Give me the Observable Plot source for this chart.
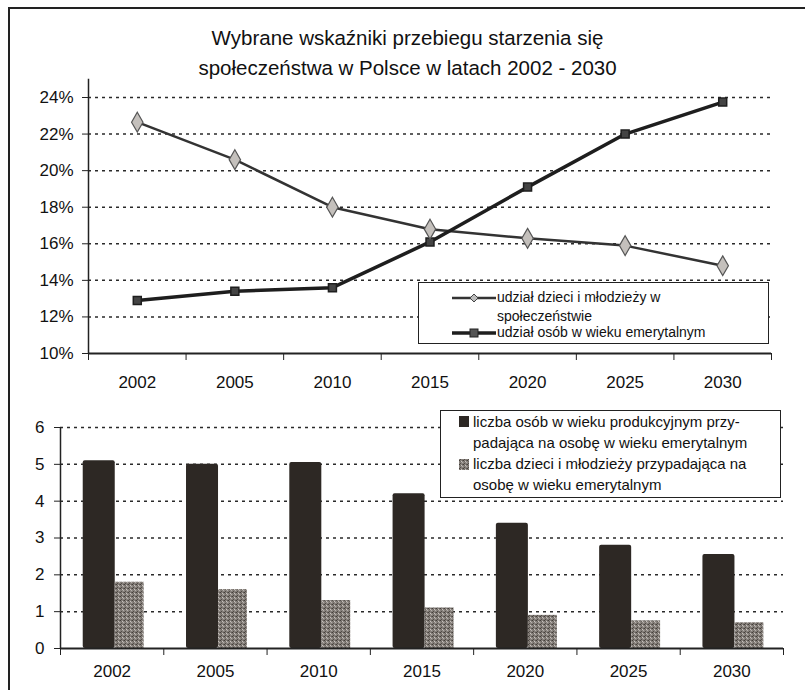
<!DOCTYPE html>
<html>
<head>
<meta charset="utf-8">
<script src="https://cdn.jsdelivr.net/npm/d3@7"></script>
<script src="https://cdn.jsdelivr.net/npm/@observablehq/plot@0.6"></script>
<style>
  body { margin: 0; background: #fff; font-family: "Liberation Sans", Arial, sans-serif; }
  #wrap { position: relative; width: 805px; height: 690px; overflow: hidden; background: #fff; }
  #frame { position: absolute; left: 8px; top: 7px; width: 900px; height: 800px; border-left: 2px solid #222; border-top: 2px solid #222; }
  #title { position: absolute; left: 0; width: 815px; top: 23px; text-align: center; font-size: 20.5px; line-height: 30px; color: #111; }
  #top { position: absolute; left: 0; top: 70px; }
  #bottom { position: absolute; left: 0; top: 400px; }
  .box { position: absolute; border: 1.5px solid #222; background: #fff; box-sizing: border-box; }
  .txt { position: absolute; color: #111; white-space: nowrap; }
  .sw { position: absolute; }
</style>
</head>
<body>
<svg width="0" height="0" style="position:absolute">
  <defs>
    <pattern id="speck" width="4" height="4" patternUnits="userSpaceOnUse">
      <rect width="4" height="4" fill="#86807b"/>
      <rect x="0" y="0" width="1" height="1" fill="#433e3a"/>
      <rect x="2" y="1" width="1" height="1" fill="#c8c3bf"/>
      <rect x="1" y="3" width="1" height="1" fill="#524d48"/>
      <rect x="3" y="2" width="1" height="1" fill="#b5b0ac"/>
      <rect x="3" y="0" width="1" height="1" fill="#65605b"/>
      <rect x="1" y="1" width="1" height="1" fill="#6a655f"/>
    </pattern>
  </defs>
</svg>
<div id="wrap">
  <div id="frame"></div>
  <div id="title">Wybrane wskaźniki przebiegu starzenia się<br>społeczeństwa w Polsce w latach 2002 - 2030</div>
  <div id="top"></div>
  <div id="bottom"></div>

  <div class="box" style="left:418px;top:282px;width:351px;height:62px"></div>
  <svg class="sw" style="left:452px;top:290px" width="46" height="50">
    <line x1="0" y1="8" x2="44" y2="8" stroke="#333" stroke-width="2.5"/>
    <path d="M22,4 L26,8 L22,12 L18,8 Z" fill="#bbb" stroke="#444" stroke-width="1"/>
    <line x1="0" y1="43" x2="44" y2="43" stroke="#1e1e1e" stroke-width="3.5"/>
    <rect x="18" y="39" width="8" height="8" fill="#555" stroke="#222"/>
  </svg>
  <div class="txt" style="left:497px;top:288px;font-size:14px;line-height:19px">udział dzieci i młodzieży w<br>społeczeństwie</div>
  <div class="txt" style="left:497px;top:324px;font-size:14px;line-height:16px">udział osób w wieku emerytalnym</div>

  <div class="box" style="left:440px;top:410px;width:341px;height:88px"></div>
  <svg class="sw" style="left:459px;top:416px" width="12" height="60">
    <rect x="0" y="0" width="10" height="11" fill="#2d2824"/>
    <rect x="0" y="43" width="10" height="11" fill="url(#speck)"/>
  </svg>
  <div class="txt" style="left:473px;top:411px;font-size:15px;line-height:21px">liczba osób w wieku produkcyjnym przy-<br>padająca na osobę w wieku emerytalnym<br>liczba dzieci i młodzieży przypadająca na<br>osobę w wieku emerytalnym</div>
</div>
<script>
const years = ["2002", "2005", "2010", "2015", "2020", "2025", "2030"];
const youthShare = [22.65, 20.6, 18.0, 16.8, 16.3, 15.9, 14.8];
const retiredShare = [12.9, 13.4, 13.6, 16.1, 19.1, 22.0, 23.75];
const pctTicks = [10, 12, 14, 16, 18, 20, 22, 24];
const workingPerRetired = [5.1, 5.0, 5.05, 4.2, 3.4, 2.8, 2.55];
const youthPerRetired = [1.8, 1.6, 1.3, 1.1, 0.9, 0.75, 0.7];
const countTicks = [0, 1, 2, 3, 4, 5, 6];

const idx = years.map((d, i) => i);
const bounds = d3.range(years.length + 1).map(i => i - 0.5);
const ink = "#222";
const grid = {stroke: "#2a2a2a", strokeWidth: 1.5, strokeDasharray: "3,4"};

const topChart = Plot.plot({
  width: 805, height: 335,
  marginTop: 27, marginBottom: 52, marginLeft: 88, marginRight: 34,
  style: {fontFamily: "Liberation Sans, Arial, sans-serif", fontSize: "17px", color: "#111", background: "transparent"},
  x: {type: "linear", domain: [-0.5, years.length - 0.5], axis: null},
  y: {domain: [10, 24], axis: null},
  marks: [
    Plot.ruleY(pctTicks.slice(1), {y: d => d, ...grid}),
    Plot.ruleY([10], {stroke: ink, strokeWidth: 2}),
    Plot.ruleX([-0.5], {y1: 10, y2: 25, stroke: ink, strokeWidth: 1.5}),
    Plot.axisY({ticks: pctTicks, tickSize: 6, tickPadding: 9, tickFormat: d => d + "%", stroke: ink, fontSize: 17}),
    Plot.axisX({ticks: bounds, tickSize: 7, tickFormat: () => "", stroke: ink}),
    Plot.axisX({ticks: idx, tickSize: 0, tickPadding: 22, tickFormat: i => years[i], fontSize: 17}),
    Plot.line(idx, {x: i => i, y: i => youthShare[i], stroke: "#333", strokeWidth: 2.5}),
    Plot.line(idx, {x: i => i, y: i => retiredShare[i], stroke: "#1e1e1e", strokeWidth: 3.5}),
    Plot.dot(idx, {x: i => i, y: i => retiredShare[i], symbol: "square", r: 4.5, fill: "#444", stroke: "#1e1e1e"}),
    Plot.dot(idx, {x: i => i, y: i => youthShare[i], symbol: "diamond", r: 6, fill: "#c4c0bc", stroke: "#555", strokeWidth: 1.2})
  ]
});
document.getElementById("top").appendChild(topChart);

const bottomChart = Plot.plot({
  width: 805, height: 290,
  marginTop: 27, marginBottom: 42, marginLeft: 60, marginRight: 22,
  style: {fontFamily: "Liberation Sans, Arial, sans-serif", fontSize: "17px", color: "#111", background: "transparent"},
  x: {type: "linear", domain: [-0.5, years.length - 0.5], axis: null},
  y: {domain: [0, 6], axis: null},
  marks: [
    Plot.ruleY(countTicks.slice(1), {y: d => d, ...grid}),
    Plot.rectY(idx, {x1: i => i - 0.28, x2: i => i + 0.03, y: i => workingPerRetired[i], fill: "#2d2824", rx: 2}),
    Plot.rectY(idx, {x1: i => i + 0.03, x2: i => i + 0.31, y: i => youthPerRetired[i], fill: "url(#speck)"}),
    Plot.ruleY([0], {stroke: ink, strokeWidth: 2}),
    Plot.ruleX([-0.5], {y1: 0, y2: 6, stroke: ink, strokeWidth: 1.5}),
    Plot.axisY({ticks: countTicks, tickSize: 6, tickPadding: 10, tickFormat: d => String(d), stroke: ink, fontSize: 17}),
    Plot.axisX({ticks: bounds, tickSize: 7, tickFormat: () => "", stroke: ink}),
    Plot.axisX({ticks: idx, tickSize: 0, tickPadding: 16, tickFormat: i => years[i], fontSize: 17})
  ]
});
document.getElementById("bottom").appendChild(bottomChart);
</script>
</body>
</html>
